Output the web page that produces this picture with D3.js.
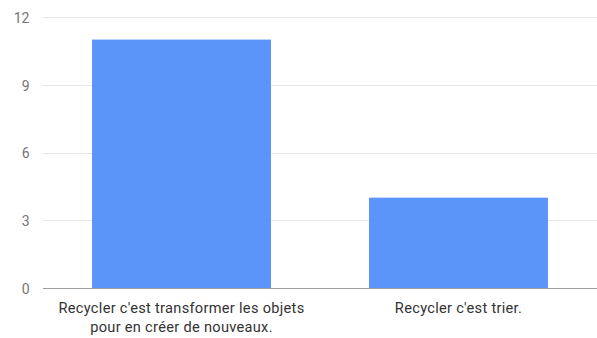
<!DOCTYPE html>
<html><head><meta charset="utf-8">
<script src="https://cdn.jsdelivr.net/npm/d3@7"></script>
<style>body{margin:0;background:#fff;}svg{display:block;font-family:Roboto,sans-serif;}</style>
</head><body><svg id="c" width="597" height="338"></svg>
<script>
const categories = [["Recycler c'est transformer les objets", "pour en créer de nouveaux."], ["Recycler c'est trier."]];
const values = [11, 4];
const yTicks = [0, 3, 6, 9, 12];

(function () {
const svg = d3.select("#c");
const mLeft = 43, mRight = 597, mTop = 17, mBottom = 288;
const x = d3.scaleBand().domain(d3.range(categories.length)).range([mLeft, mRight]).paddingInner(0.354).paddingOuter(0.177);
const y = d3.scaleLinear().domain([0, 12]).range([mBottom, mTop]);

svg.append("g").selectAll("line").data(yTicks.filter(d => d !== 0)).join("line")
  .attr("x1", mLeft).attr("x2", mRight).attr("y1", d => Math.round(y(d)) + 0.5).attr("y2", d => Math.round(y(d)) + 0.5)
  .attr("stroke", "#e6e6e6").attr("stroke-width", 1);

svg.append("g").selectAll("text").data(yTicks).join("text")
  .attr("x", 29.5).attr("y", d => y(d) + 1).attr("dy", "0.35em").attr("text-anchor", "end")
  .attr("fill", "#757575").attr("font-size", 14).text(d => d);

svg.append("g").selectAll("rect").data(values).join("rect")
  .attr("x", (d, i) => x(i)).attr("width", x.bandwidth())
  .attr("y", d => y(d)).attr("height", d => y(0) - y(d))
  .attr("fill", "#5b95f9");

svg.append("line").attr("x1", mLeft).attr("x2", mRight).attr("y1", mBottom + 0.5).attr("y2", mBottom + 0.5)
  .attr("stroke", "#9e9e9e").attr("stroke-width", 1);

const lab = svg.append("g").selectAll("text").data(categories).join("text")
  .attr("x", (d, i) => x(i) + x.bandwidth() / 2).attr("y", 313).attr("text-anchor", "middle")
  .attr("fill", "#333").attr("font-size", 14.6).attr("letter-spacing", "0.3px");
lab.selectAll("tspan").data(d => d).join("tspan")
  .attr("x", function() { return this.parentNode.getAttribute("x"); })
  .attr("dy", (d, i) => i === 0 ? 0 : 19).text(d => d);
})();
</script></body></html>
